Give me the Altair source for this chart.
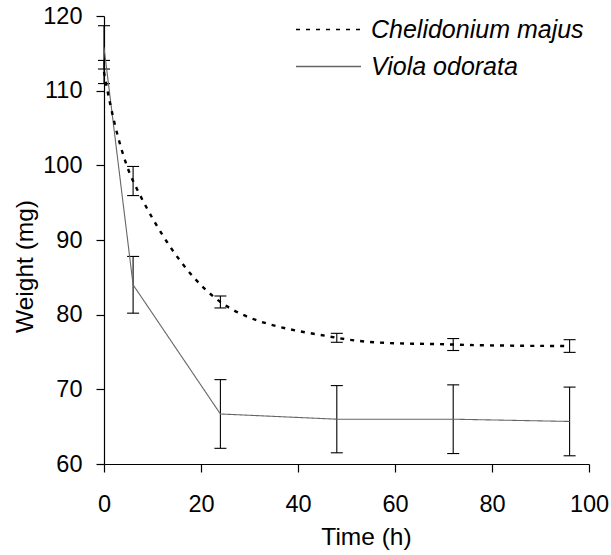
import altair as alt
import pandas as pd

# Sampling times (h)
times = [0, 6, 24, 48, 72, 96]

# Mean weight (mg) and error for each species
chel_mean = [112.5, 97.9, 81.7, 76.9, 76.0, 75.8]
chel_err = [1.55, 1.95, 0.8, 0.6, 0.8, 0.85]
viola_mean = [115.8, 84.0, 66.7, 66.0, 66.0, 65.7]
viola_err = [2.9, 3.8, 4.6, 4.5, 4.6, 4.6]

species = ["Chelidonium majus", "Viola odorata"]

rows = []
for name, means, errs in [(species[0], chel_mean, chel_err),
                          (species[1], viola_mean, viola_err)]:
    for t, m, e in zip(times, means, errs):
        rows.append({"time": t, "weight": m, "low": m - e, "high": m + e,
                     "species": name})
df = pd.DataFrame(rows)

FONT = "Liberation Sans"

x_scale = alt.Scale(domain=[0, 100], nice=False)
y_scale = alt.Scale(domain=[60, 120], nice=False, zero=False)

x_enc = alt.X("time:Q", scale=x_scale, title="Time (h)",
              axis=alt.Axis(values=[0, 20, 40, 60, 80, 100], labelPadding=20,
                            titleX=262, titleY=73, titleBaseline="middle",
                            titleAlign="center"))
y_enc = alt.Y("weight:Q", scale=y_scale, title="Weight (mg)",
              axis=alt.Axis(values=[60, 70, 80, 90, 100, 110, 120],
                            labelPadding=14, titleX=-79, titleY=250,
                            titleAngle=270, titleBaseline="middle",
                            titleAlign="center"))

# One single-entry legend per species, stacked in the upper right corner
legend_opts = dict(title=None, orient="none", legendX=191,
                   symbolType="stroke", symbolSize=4225, symbolStrokeWidth=1.6,
                   labelFont=FONT, labelFontSize=25, labelFontStyle="italic",
                   labelColor="black", labelOffset=9, labelLimit=0)

color_enc = alt.Color("species:N",
                      scale=alt.Scale(domain=[species[1], species[0]],
                                      range=["#666666", "#000000"]),
                      legend=alt.Legend(values=[species[1]], legendY=17,
                                        **legend_opts))
dash_enc = alt.StrokeDash("species:N",
                          scale=alt.Scale(domain=species, range=[[4, 6], [1, 0]]),
                          legend=alt.Legend(values=[species[0]], legendY=-20,
                                            symbolStrokeColor="black",
                                            **legend_opts))

base = alt.Chart(df)

chel_line = base.transform_filter(alt.datum.species == species[0]).mark_line(
    interpolate="catmull-rom", strokeWidth=2.4
).encode(x=x_enc, y=y_enc, color=color_enc, strokeDash=dash_enc)

viola_line = base.transform_filter(alt.datum.species == species[1]).mark_line(
    strokeWidth=1.1
).encode(x=x_enc, y=y_enc, color=color_enc, strokeDash=dash_enc)

bars = base.mark_rule(color="black", strokeWidth=1.1).encode(
    x="time:Q", y="low:Q", y2="high:Q"
)
caps_low = base.mark_rule(color="black", strokeWidth=1.1, xOffset=-6, x2Offset=6).encode(
    x="time:Q", x2="time:Q", y="low:Q"
)
caps_high = base.mark_rule(color="black", strokeWidth=1.1, xOffset=-6, x2Offset=6).encode(
    x="time:Q", x2="time:Q", y="high:Q"
)

chart = alt.layer(bars, caps_low, caps_high, viola_line, chel_line).properties(
    width=485, height=448,
    autosize=alt.AutoSizeParams(type="none"),
    padding={"left": 104, "top": 16, "right": 22, "bottom": 91},
).configure(background="white").configure_view(stroke=None).configure_axis(
    grid=False, domainColor="black", domainWidth=1.2, tickColor="black",
    tickWidth=1.2, tickSize=8, labelFont=FONT, labelFontSize=23.5,
    labelColor="black", titleFont=FONT, titleFontSize=24.5, titleFontWeight="normal",
    titleColor="black", labelFlush=False, labelOverlap=False
)

chart.save("out.html", embed_options={"renderer": "svg", "actions": False})
